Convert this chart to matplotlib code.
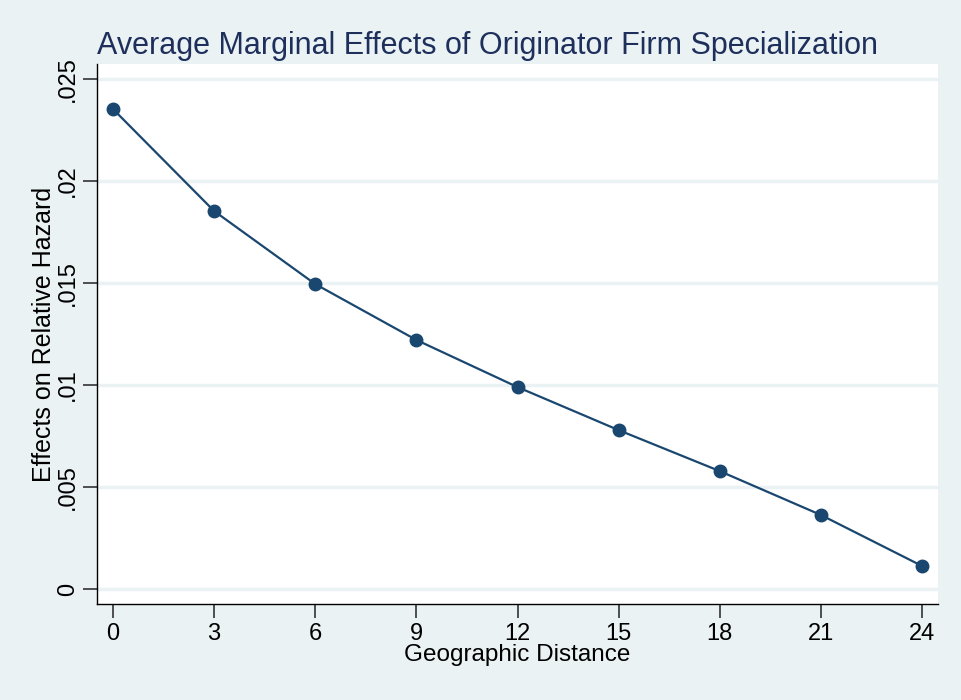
import matplotlib
matplotlib.use("Agg")
import matplotlib.pyplot as plt

# geographic distance and average marginal effect
distance = [0, 3, 6, 9, 12, 15, 18, 21, 24]
effect = [0.02353, 0.01853, 0.01495, 0.01221, 0.00990, 0.00779, 0.00578, 0.00363, 0.00113]
yticks = [0, 0.005, 0.01, 0.015, 0.02, 0.025]
ytick_labels = ["0", ".005", ".01", ".015", ".02", ".025"]

navy = "#1A476F"
title_navy = "#1E2F5C"
bg = "#EAF2F3"
plt.rcParams["font.family"] = ["Liberation Sans", "DejaVu Sans"]

fig = plt.figure(figsize=(9.62, 7.0), dpi=100, facecolor=bg)
ax = fig.add_axes([97 / 962, 1 - 604 / 700, (938 - 97) / 962, (604 - 64) / 700])
ax.set_facecolor("white")

ax.plot(distance, effect, color=navy, linewidth=1.6, marker="o", markersize=9,
        markerfacecolor=navy, markeredgecolor=navy, zorder=3)

ax.set_xlim(-0.475, 24.475)
ax.set_ylim(-0.000735, 0.02574)
ax.set_xticks(distance)
ax.set_xticklabels([str(d) for d in distance], fontsize=17)
ax.set_yticks(yticks)
ax.set_yticklabels(ytick_labels, fontsize=17, rotation=90, va="center")
ax.grid(axis="y", color=bg, linewidth=2.5)
ax.set_axisbelow(True)

for s in ["top", "right"]:
    ax.spines[s].set_visible(False)
for s in ["left", "bottom"]:
    ax.spines[s].set_color("black")
    ax.spines[s].set_linewidth(1.0)
ax.tick_params(length=10, width=1.2, color="#333333", pad=4)
ax.tick_params(axis="y", pad=3)

ax.set_xlabel("Geographic Distance", fontsize=17.5, labelpad=-1)
ax.set_ylabel("Effects on Relative Hazard", fontsize=18, labelpad=1)
ax.set_title("Average Marginal Effects of Originator Firm Specialization",
             fontsize=22, color=title_navy, loc="left", pad=7)

fig.savefig("out.png", dpi=100, facecolor=bg)
